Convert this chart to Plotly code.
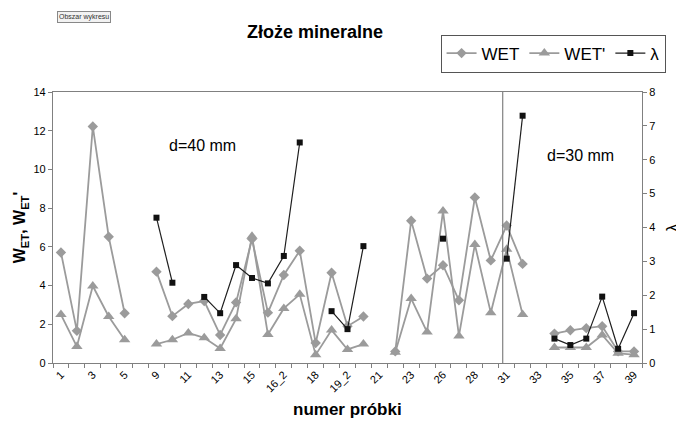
import plotly.graph_objects as go

# ---- data ----
samples = ["1", "2", "3", "4", "5", "6", "9", "10", "11", "12", "13", "14", "15", "16",
           "16_2", "17", "18", "19", "19_2", "20", "21", "22", "23", "24", "26", "27", "28",
           "29", "31", "32", "33", "34", "35", "36", "37", "38", "39"]

wet = [5.71, 1.66, 12.22, 6.52, 2.57, None, 4.72, 2.42, 3.05, 3.2, 1.45, 3.13, 6.4, 2.6,
       4.55, 5.8, 1.03, 4.66, 1.9, 2.4, None, 0.6, 7.35, 4.36, 5.05, 3.24, 8.55,
       5.3, 7.1, 5.12, None, 1.52, 1.69, 1.8, 1.9, 0.6, 0.6]

wet_prime = [2.5, 0.85, 3.98, 2.4, 1.2, None, 0.98, 1.2, 1.55, 1.3, 0.75, 2.28, 6.55, 1.47,
             2.82, 3.55, 0.42, 1.7, 0.7, 0.98, None, 0.55, 3.33, 1.6, 7.85, 1.4, 6.12,
             2.6, 5.88, 2.5, None, 0.8, 0.8, 0.8, 1.45, 0.5, 0.43]

lam = [None, None, None, None, None, None, 4.29, 2.37, None, 1.95, 1.47, 2.89, 2.51, 2.35,
       3.16, 6.51, None, 1.53, 1.0, 3.45, None, None, None, None, 3.67, None, None,
       None, 3.08, 7.3, None, 0.72, 0.53, 0.72, 1.96, 0.42, 1.47]

tick_text = [s if i % 2 == 0 else "" for i, s in enumerate(samples)]

FONT = "Liberation Sans, Arial, sans-serif"
GRAY = "#9b9b9b"
AXIS = "#808080"

# the page body has an 8px margin, so the figure is 8px smaller than the window
W, H = 676, 415

fig = go.Figure()
fig.add_trace(go.Scatter(
    x=samples, y=wet, name="WET", mode="lines+markers", connectgaps=False,
    line=dict(color=GRAY, width=1.8),
    marker=dict(symbol="diamond", size=8, color=GRAY)))
fig.add_trace(go.Scatter(
    x=samples, y=wet_prime, name="WET'", mode="lines+markers", connectgaps=False,
    line=dict(color=GRAY, width=1.8),
    marker=dict(symbol="triangle-up", size=10, color=GRAY)))
fig.add_trace(go.Scatter(
    x=samples, y=lam, name="λ", mode="lines+markers", connectgaps=False, yaxis="y2",
    line=dict(color="#1e1e1e", width=1.2),
    marker=dict(symbol="square", size=6, color="#111111")))

fig.update_layout(
    width=W, height=H,
    paper_bgcolor="white", plot_bgcolor="white",
    font=dict(family=FONT, color="#000000", size=11),
    margin=dict(l=45, r=42, t=84, b=60, autoexpand=False),
    title=dict(text="<b>Złoże mineralne</b>", x=307 / W, xanchor="center",
               y=1 - 24 / H, yanchor="middle", font=dict(size=18)),
    showlegend=True,
    legend=dict(orientation="h", x=1.04, xanchor="right", y=1.212, yanchor="top",
                font=dict(size=17), bordercolor="#555555", borderwidth=1,
                bgcolor="white", itemwidth=30, tracegroupgap=0),
    xaxis=dict(type="category", categoryorder="array", categoryarray=samples,
               range=[-0.5, len(samples) - 0.5],
               tickmode="array", tickvals=samples, ticktext=tick_text,
               tickangle=-45, tickson="boundaries", ticks="outside", ticklen=4,
               tickcolor=AXIS, showline=True, linecolor=AXIS, linewidth=1.2,
               mirror=True, showgrid=False, zeroline=False,
               tickfont=dict(size=11)),
    yaxis=dict(range=[0, 14], dtick=2, ticks="outside", ticklen=4, tickcolor=AXIS,
               showline=True, linecolor=AXIS, linewidth=1.2, showgrid=False,
               zeroline=False, tickfont=dict(size=11),
               title=dict(text="<b>W<sub>ET</sub>, W<sub>ET</sub>'</b>",
                          font=dict(size=16), standoff=3)),
    yaxis2=dict(overlaying="y", side="right", range=[0, 8], dtick=1, ticks="outside",
                ticklen=4, tickcolor=AXIS, showline=True, linecolor=AXIS, linewidth=1.2,
                showgrid=False, zeroline=False, tickfont=dict(size=11)),
)

# separator between d=40 mm and d=30 mm groups
fig.add_shape(type="line", xref="x", yref="paper", x0=27.75, x1=27.75, y0=0, y1=1,
              line=dict(color=AXIS, width=1.2))

common = dict(xref="paper", yref="paper", xanchor="center", yanchor="middle",
              showarrow=False)

# axis titles placed as annotations so they stay inside the page
fig.add_annotation(text="<b>numer próbki</b>", x=0.5, y=-0.172,
                   font=dict(size=17), **common)
fig.add_annotation(text="λ", x=1.0515, y=0.5, textangle=-90,
                   font=dict(size=16), **common)

fig.add_annotation(text="d=40 mm", x=0.253, y=0.804, font=dict(size=16), **common)
fig.add_annotation(text="d=30 mm", x=0.896, y=0.767, font=dict(size=16), **common)
fig.add_annotation(text="Obszar wykresu", x=0.052, y=1.277,
                   font=dict(size=7, color="#333333"),
                   bordercolor="#888888", borderwidth=1, borderpad=1, bgcolor="#f2f2f2",
                   **common)

fig.write_html("out.html")
